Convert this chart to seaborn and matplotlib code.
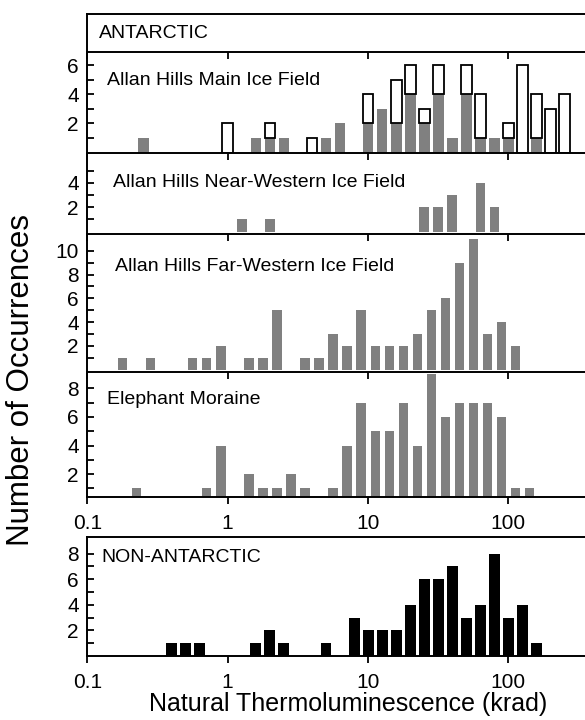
import matplotlib
matplotlib.use("Agg")
import matplotlib.pyplot as plt
import numpy as np
import pandas as pd
import seaborn as sns
from matplotlib.ticker import FixedLocator, FixedFormatter, NullLocator

sns.set_theme(style="ticks")
plt.rcParams["font.family"] = ["Liberation Sans", "DejaVu Sans"]
plt.rcParams["axes.edgecolor"] = "black"
plt.rcParams["axes.linewidth"] = 1.4
plt.rcParams["text.color"] = "black"
plt.rcParams["axes.labelcolor"] = "black"
plt.rcParams["xtick.color"] = "black"
plt.rcParams["ytick.color"] = "black"

# ---------------------------------------------------------------------------
# Data: natural TL (krad, bin centres) and number of meteorites per bin
# ---------------------------------------------------------------------------
# Allan Hills Main Ice Field (grey = measured here, open = literature values)
main_tl = [0.25, 1.0, 1.6, 2.0, 2.5, 4.0, 5.0, 6.3, 10, 12.6, 16, 20, 25,
           32, 40, 50, 63, 79, 100, 126, 158, 200, 251]
main_grey = [1, 0, 1, 1, 1, 0, 1, 2, 2, 3, 2, 4, 2, 4, 1, 4, 1, 1, 1, 0, 1, 0, 0]
main_open = [0, 2, 0, 1, 0, 1, 0, 0, 2, 0, 3, 2, 1, 2, 0, 2, 3, 0, 1, 6, 3, 3, 4]

# Allan Hills Near-Western Ice Field
near_tl = [1.26, 2.0, 25, 32, 40, 63, 79]
near_n = [1, 1, 2, 2, 3, 4, 2]

# Allan Hills Far-Western Ice Field
far_tl = [0.178, 0.282, 0.562, 0.708, 0.891, 1.41, 1.78, 2.24, 3.55, 4.47,
          5.62, 7.08, 8.91, 11.2, 14.1, 17.8, 22.4, 28.2, 35.5, 44.7, 56.2,
          70.8, 89.1, 112]
far_n = [1, 1, 1, 1, 2, 1, 1, 5, 1, 1, 3, 2, 5, 2, 2, 2, 3, 5, 6, 9, 11, 3, 4, 2]

# Elephant Moraine
eet_tl = [0.224, 0.708, 0.891, 1.41, 1.78, 2.24, 2.82, 3.55, 5.62, 7.08,
          8.91, 11.2, 14.1, 17.8, 22.4, 28.2, 35.5, 44.7, 56.2, 70.8, 89.1,
          112, 141]
eet_n = [1, 1, 4, 2, 1, 1, 2, 1, 1, 4, 7, 5, 5, 7, 4, 9, 6, 7, 7, 7, 6, 1, 1]

# Non-Antarctic falls
non_tl = [0.4, 0.5, 0.63, 1.6, 2.0, 2.5, 5.0, 7.9, 10, 12.6, 16, 20, 25, 32,
          40, 50, 63, 79, 100, 126, 158]
non_n = [1, 1, 1, 1, 2, 1, 1, 3, 2, 2, 2, 4, 6, 6, 7, 3, 4, 8, 3, 4, 1]

decade_ticks = [0.1, 1, 10, 100]
decade_labels = ["0.1", "1", "10", "100"]

GREY = "#808080"
W, H = 585, 720
LEFT = 87.3
XMAX = 352

fig = plt.figure(figsize=(W / 100, H / 100), dpi=100)


def panel(top_px, bottom_px):
    ax = fig.add_axes([LEFT / W, 1 - bottom_px / H, 1 - LEFT / W,
                       (bottom_px - top_px) / H])
    ax.set_facecolor("none")
    return ax


def style_bars(ax):
    for p in ax.patches:
        if p.get_height() <= 0:
            p.set_visible(False)
            continue
        fc = p.get_facecolor()
        if fc[0] > 0.9:  # open (white) bars get a black outline
            p.set_edgecolor("black")
            p.set_linewidth(1.3)
        else:
            p.set_edgecolor("none")
            p.set_linewidth(0)


def decade_axis(ax, xlabels=False):
    ax.set_xscale("log")
    ax.set_xlim(0.1, XMAX)
    ax.xaxis.set_major_locator(FixedLocator(decade_ticks))
    ax.xaxis.set_minor_locator(NullLocator())
    ax.xaxis.set_major_formatter(FixedFormatter(decade_labels))
    ax.tick_params(axis="x", which="major", direction="out", length=5,
                   width=1.3, bottom=True, top=False, labelbottom=xlabels,
                   labelsize=15, pad=7)


def style_axes(ax, ylim, major, minor, bottom_spine=False, xlabels=False):
    decade_axis(ax, xlabels)
    ax.set_ylim(*ylim)
    ax.spines["right"].set_visible(False)
    ax.spines["bottom"].set_visible(bottom_spine)
    ax.spines["top"].set_visible(True)
    ax.spines["left"].set_visible(True)
    ax.yaxis.set_major_locator(FixedLocator(major))
    ax.yaxis.set_minor_locator(FixedLocator(minor))
    ax.tick_params(axis="y", which="both", direction="in", length=5,
                   width=1.3, left=True, right=False, labelsize=15, pad=6)
    ax.tick_params(axis="y", which="minor", labelleft=False)
    ax.set_xlabel("")
    ax.set_ylabel("")


# Header strip
hdr = panel(14, 52)
decade_axis(hdr)
hdr.set_yticks([])
for side in ("right", "bottom"):
    hdr.spines[side].set_visible(False)
hdr.text(12 / (W - LEFT), 0.5, "ANTARCTIC", transform=hdr.transAxes,
         ha="left", va="center", fontsize=14)

# Allan Hills Main Ice Field: stacked grey + open bars
ax1 = panel(52, 152.5)
main_df = pd.DataFrame({
    "tl": main_tl + main_tl,
    "n": main_grey + main_open,
    "kind": ["measured"] * len(main_tl) + ["literature"] * len(main_tl),
})
sns.histplot(data=main_df, x="tl", weights="n", hue="kind",
             hue_order=["literature", "measured"], multiple="stack",
             palette={"measured": GREY, "literature": "white"},
             log_scale=True, binwidth=0.1, binrange=(-1.05, 2.55),
             shrink=0.76, alpha=1, legend=False, ax=ax1)
style_bars(ax1)
style_axes(ax1, (0, 6.9), [2, 4, 6], [1, 3, 5])
ax1.text(20 / (W - LEFT), 0.72, "Allan Hills Main Ice Field",
         transform=ax1.transAxes, ha="left", va="center", fontsize=14)

# Near-Western Ice Field
ax2 = panel(152.5, 233.5)
sns.histplot(x=near_tl, weights=near_n, color=GREY, log_scale=True,
             binwidth=0.1, binrange=(-1.05, 2.55), shrink=0.7, alpha=1,
             ax=ax2)
style_bars(ax2)
style_axes(ax2, (-0.15, 6.5), [2, 4], [1, 3, 5])
ax2.text(26 / (W - LEFT), 0.63, "Allan Hills Near-Western Ice Field",
         transform=ax2.transAxes, ha="left", va="center", fontsize=14)

# Far-Western Ice Field
ax3 = panel(233.5, 372)
sns.histplot(x=far_tl, weights=far_n, color=GREY, log_scale=True,
             binwidth=0.1, binrange=(-1.0, 2.5), shrink=0.67, alpha=1,
             ax=ax3)
style_bars(ax3)
style_axes(ax3, (-0.2, 11.45), [2, 4, 6, 8, 10], [1, 3, 5, 7, 9])
ax3.text(28 / (W - LEFT), 0.76, "Allan Hills Far-Western Ice Field",
         transform=ax3.transAxes, ha="left", va="center", fontsize=14)

# Elephant Moraine
ax4 = panel(372, 497)
sns.histplot(x=eet_tl, weights=eet_n, color=GREY, log_scale=True,
             binwidth=0.1, binrange=(-1.0, 2.5), shrink=0.67, alpha=1,
             ax=ax4)
style_bars(ax4)
style_axes(ax4, (0.4, 9.15), [2, 4, 6, 8], [1, 3, 5, 7],
           bottom_spine=True, xlabels=True)
ax4.text(20 / (W - LEFT), 0.78, "Elephant Moraine",
         transform=ax4.transAxes, ha="left", va="center", fontsize=14)

# Non-Antarctic falls
ax5 = panel(537, 656)
sns.histplot(x=non_tl, weights=non_n, color="black", log_scale=True,
             binwidth=0.1, binrange=(-1.05, 2.55), shrink=0.78, alpha=1,
             ax=ax5)
style_bars(ax5)
style_axes(ax5, (0, 9.3), [2, 4, 6, 8], [1, 3, 5, 7],
           bottom_spine=True, xlabels=True)
ax5.text(14 / (W - LEFT), 0.83, "NON-ANTARCTIC",
         transform=ax5.transAxes, ha="left", va="center", fontsize=14)
ax5.set_xlabel("Natural Thermoluminescence (krad)", fontsize=18)
ax5.xaxis.set_label_coords((348.5 - LEFT) / (W - LEFT), -0.30)

fig.text(21 / W, 1 - 380 / H, "Number of Occurrences", rotation=90,
         ha="center", va="center", fontsize=22.5)

fig.savefig("out.png", dpi=100)
